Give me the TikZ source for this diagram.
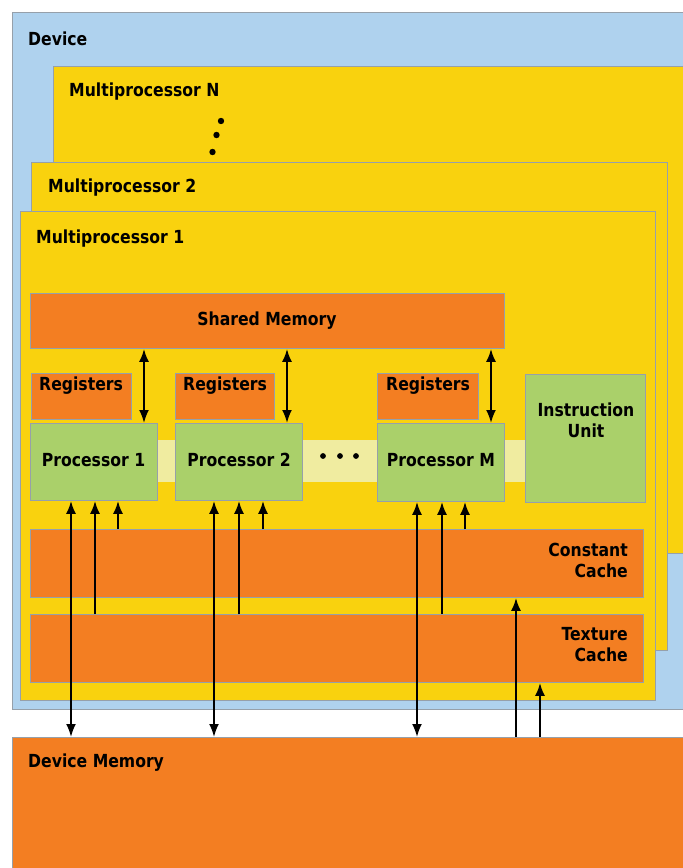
\documentclass[tikz,border=0pt]{standalone}
\usepackage{fontspec}
\setmainfont{DejaVu Sans}[FakeStretch=0.87]
\usetikzlibrary{arrows.meta}
\definecolor{devblue}{RGB}{175,210,238}
\definecolor{mpyellow}{RGB}{249,210,14}
\definecolor{memorange}{RGB}{243,126,34}
\definecolor{procgreen}{RGB}{170,208,106}
\definecolor{barpale}{RGB}{240,236,160}
\definecolor{edgegray}{RGB}{150,160,170}
\begin{document}
\begin{tikzpicture}[x=1pt,y=-1pt,
  every node/.style={font=\fontsize{18}{21}\selectfont\bfseries},
  blk/.style={draw=edgegray,line width=0.9pt,inner sep=0pt,anchor=north west},
  lbl/.style={inner sep=0pt,text=black},
  arr/.style={line width=2pt,-{Latex[length=13pt,width=10pt]}},
  darr/.style={line width=2pt,{Latex[length=13pt,width=10pt]}-{Latex[length=13pt,width=10pt]}}]
\useasboundingbox (0,0) rectangle (683,868);
\clip (0,0) rectangle (683,868);
% outer containers
\node[blk,fill=devblue,minimum width=690,minimum height=697] (dev) at (12,12) {};
\node[lbl,anchor=west] (devl) at (28,39) {Device};
\node[blk,fill=mpyellow,minimum width=650,minimum height=487] (mpn) at (53,66) {};
\node[lbl,anchor=west] (mpnl) at (69,92) {Multiprocessor N};
\fill (221,121) circle (3.2) (216.5,135) circle (3.2) (212.5,152) circle (3.2);
\node[blk,fill=mpyellow,minimum width=636,minimum height=488] (mp2) at (31,162) {};
\node[lbl,anchor=west] (mp2l) at (48,188) {Multiprocessor 2};
\node[blk,fill=mpyellow,minimum width=635,minimum height=489] (mp1) at (20,211) {};
\node[lbl,anchor=west] (mp1l) at (36,239) {Multiprocessor 1};
% pale bar behind processors
\node[blk,draw=none,fill=barpale,minimum width=368,minimum height=42] (bar) at (157,440) {};
% shared memory
\node[blk,fill=memorange,minimum width=474,minimum height=55] (sm) at (30,293) {};
\node[lbl] (sml) at (267,321) {Shared Memory};
% registers
\node[blk,fill=memorange,minimum width=100,minimum height=46] (r1) at (31,373) {};
\node[blk,fill=memorange,minimum width=99,minimum height=46] (r2) at (175,373) {};
\node[blk,fill=memorange,minimum width=101,minimum height=46] (rm) at (377,373) {};
\node[lbl,anchor=west] (r1l) at (39,386) {Registers};
\node[lbl,anchor=west] (r2l) at (183,386) {Registers};
\node[lbl,anchor=west] (rml) at (386,386) {Registers};
% processors
\node[blk,fill=procgreen,minimum width=127,minimum height=77] (p1) at (30,423) {};
\node[blk,fill=procgreen,minimum width=127,minimum height=77] (p2) at (175,423) {};
\node[blk,fill=procgreen,minimum width=127,minimum height=78] (pm) at (377,423) {};
\node[lbl] (p1l) at (93.5,460) {Processor 1};
\node[lbl] (p2l) at (239,460) {Processor 2};
\node[lbl] (pml) at (441,460) {Processor M};
\fill (323,456) circle (2.9) (340,456) circle (2.9) (356,456) circle (2.9);
% instruction unit
\node[blk,fill=procgreen,minimum width=120,minimum height=128] (iu) at (525,374) {};
\node[lbl,align=center] (iul) at (586,420) {Instruction\\Unit};
% caches
\node[blk,fill=memorange,minimum width=613,minimum height=68] (cc) at (30,529) {};
\node[lbl,align=right,anchor=east] (ccl) at (628,560) {Constant\\Cache};
\node[blk,fill=memorange,minimum width=613,minimum height=68] (tc) at (30,614) {};
\node[lbl,align=right,anchor=east] (tcl) at (628,645) {Texture\\Cache};
% device memory
\node[blk,fill=memorange,minimum width=690,minimum height=150] (dm) at (12,737) {};
\node[lbl,anchor=west] (dml) at (28,763) {Device Memory};
% x positions of connectors
\foreach \n/\xx in {s1/144,s2/287,s3/491,d1/71,d2/214,d3/417,t1/95,t2/239,t3/442,c1/118,c2/263,c3/465,cu/516,tu/540}
  \coordinate (\n) at (\xx,0);
% shared memory <-> processors
\draw[darr] (sm.south -| s1) -- (p1.north -| s1);
\draw[darr] (sm.south -| s2) -- (p2.north -| s2);
\draw[darr] (sm.south -| s3) -- (pm.north -| s3);
% processors <-> device memory
\draw[darr] (p1.south -| d1) -- (dm.north -| d1);
\draw[darr] (p2.south -| d2) -- (dm.north -| d2);
\draw[darr] (pm.south -| d3) -- (dm.north -| d3);
% texture cache -> processors
\draw[arr] (tc.north -| t1) -- (p1.south -| t1);
\draw[arr] (tc.north -| t2) -- (p2.south -| t2);
\draw[arr] (tc.north -| t3) -- (pm.south -| t3);
% constant cache -> processors
\draw[arr] (cc.north -| c1) -- (p1.south -| c1);
\draw[arr] (cc.north -| c2) -- (p2.south -| c2);
\draw[arr] (cc.north -| c3) -- (pm.south -| c3);
% device memory -> caches
\draw[arr] (dm.north -| cu) -- (cc.south -| cu);
\draw[arr] (dm.north -| tu) -- (tc.south -| tu);
\end{tikzpicture}
\end{document}
